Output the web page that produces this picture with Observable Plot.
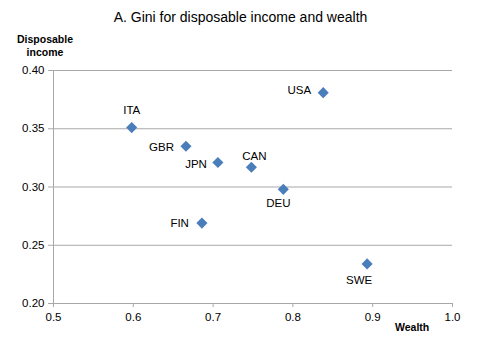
<!DOCTYPE html>
<html>
<head>
<meta charset="utf-8">
<script src="https://cdn.jsdelivr.net/npm/d3@7"></script>
<script src="https://cdn.jsdelivr.net/npm/@observablehq/plot@0.6"></script>
<style>
  html, body { margin: 0; padding: 0; background: #fff; }
  #wrap { position: relative; width: 481px; height: 345px; font-family: "Liberation Sans", Arial, sans-serif; }
  #title { position: absolute; left: 0; width: 481px; top: 9px; text-align: center; font-size: 14px; color: #000; }
  #ylab { position: absolute; left: 7px; width: 76px; top: 33px; text-align: center; font-size: 10.5px; font-weight: bold; line-height: 13px; color: #000; }
  #xlab { position: absolute; left: 395px; top: 321px; font-size: 10.5px; font-weight: bold; color: #000; }
  svg { position: absolute; left: 0; top: 0; }
</style>
</head>
<body>
<div id="wrap">
  <div id="chart"></div>
  <div id="title">A. Gini for disposable income and wealth</div>
  <div id="ylab">Disposable<br>income</div>
  <div id="xlab">Wealth</div>
</div>
<script>
const countries = ["ITA", "GBR", "JPN", "USA", "CAN", "DEU", "FIN", "SWE"];
const wealth    = [0.598, 0.666, 0.706, 0.838, 0.748, 0.788, 0.686, 0.893];
const income    = [0.351, 0.335, 0.321, 0.381, 0.317, 0.298, 0.269, 0.234];
const xTicks = [0.5, 0.6, 0.7, 0.8, 0.9, 1.0];
const yTicks = [0.20, 0.25, 0.30, 0.35, 0.40];

const data = countries.map((c, i) => ({country: c, wealth: wealth[i], income: income[i]}));

// label placement (style only)
const place = {
  ITA: {dx: 0, dy: -17, anchor: "middle"},
  CAN: {dx: 3, dy: -11, anchor: "middle"},
  DEU: {dx: -5, dy: 14, anchor: "middle"},
  SWE: {dx: -8, dy: 16, anchor: "middle"},
  GBR: {dx: -12, dy: 1, anchor: "end"},
  JPN: {dx: -11, dy: 2, anchor: "end"},
  USA: {dx: -12, dy: -2, anchor: "end"},
  FIN: {dx: -13, dy: 0, anchor: "end"}
};

const grid = "#a8a8a8";
const blue = "#4a7ebb";

const labelMarks = data.map(d => {
  const p = place[d.country];
  return Plot.text([d], {x: "wealth", y: "income", text: "country", dx: p.dx, dy: p.dy, textAnchor: p.anchor, fontSize: 11.5, fill: "#000"});
});

const plot = Plot.plot({
  width: 481,
  height: 345,
  marginLeft: 53,
  marginRight: 29,
  marginTop: 70,
  marginBottom: 42,
  style: {fontFamily: "Liberation Sans, Arial, sans-serif", fontSize: "11px", color: "#000", background: "transparent"},
  x: {domain: [0.5, 1.0], ticks: xTicks, tickFormat: d3.format(".1f"), label: null},
  y: {domain: [0.20, 0.40], ticks: yTicks, tickFormat: d3.format(".2f"), label: null},
  marks: [
    Plot.gridY(yTicks.filter(d => d > 0.2), {stroke: grid, strokeOpacity: 1, strokeWidth: 1}),
    Plot.ruleX([0.5], {stroke: grid, strokeWidth: 1}),
    Plot.ruleY([0.2], {stroke: grid, strokeWidth: 1}),
    Plot.axisY(yTicks, {tickSize: 5, stroke: grid, tickPadding: 4, fontSize: 11.5, fill: "#000"}),
    Plot.axisX(xTicks, {tickSize: 4, stroke: grid, tickPadding: 5, fontSize: 11.5, fill: "#000"}),
    Plot.dot(data, {x: "wealth", y: "income", symbol: "diamond2", r: 5, fill: blue, stroke: "none"}),
    ...labelMarks
  ]
});
document.getElementById("chart").appendChild(plot);
</script>
</body>
</html>
